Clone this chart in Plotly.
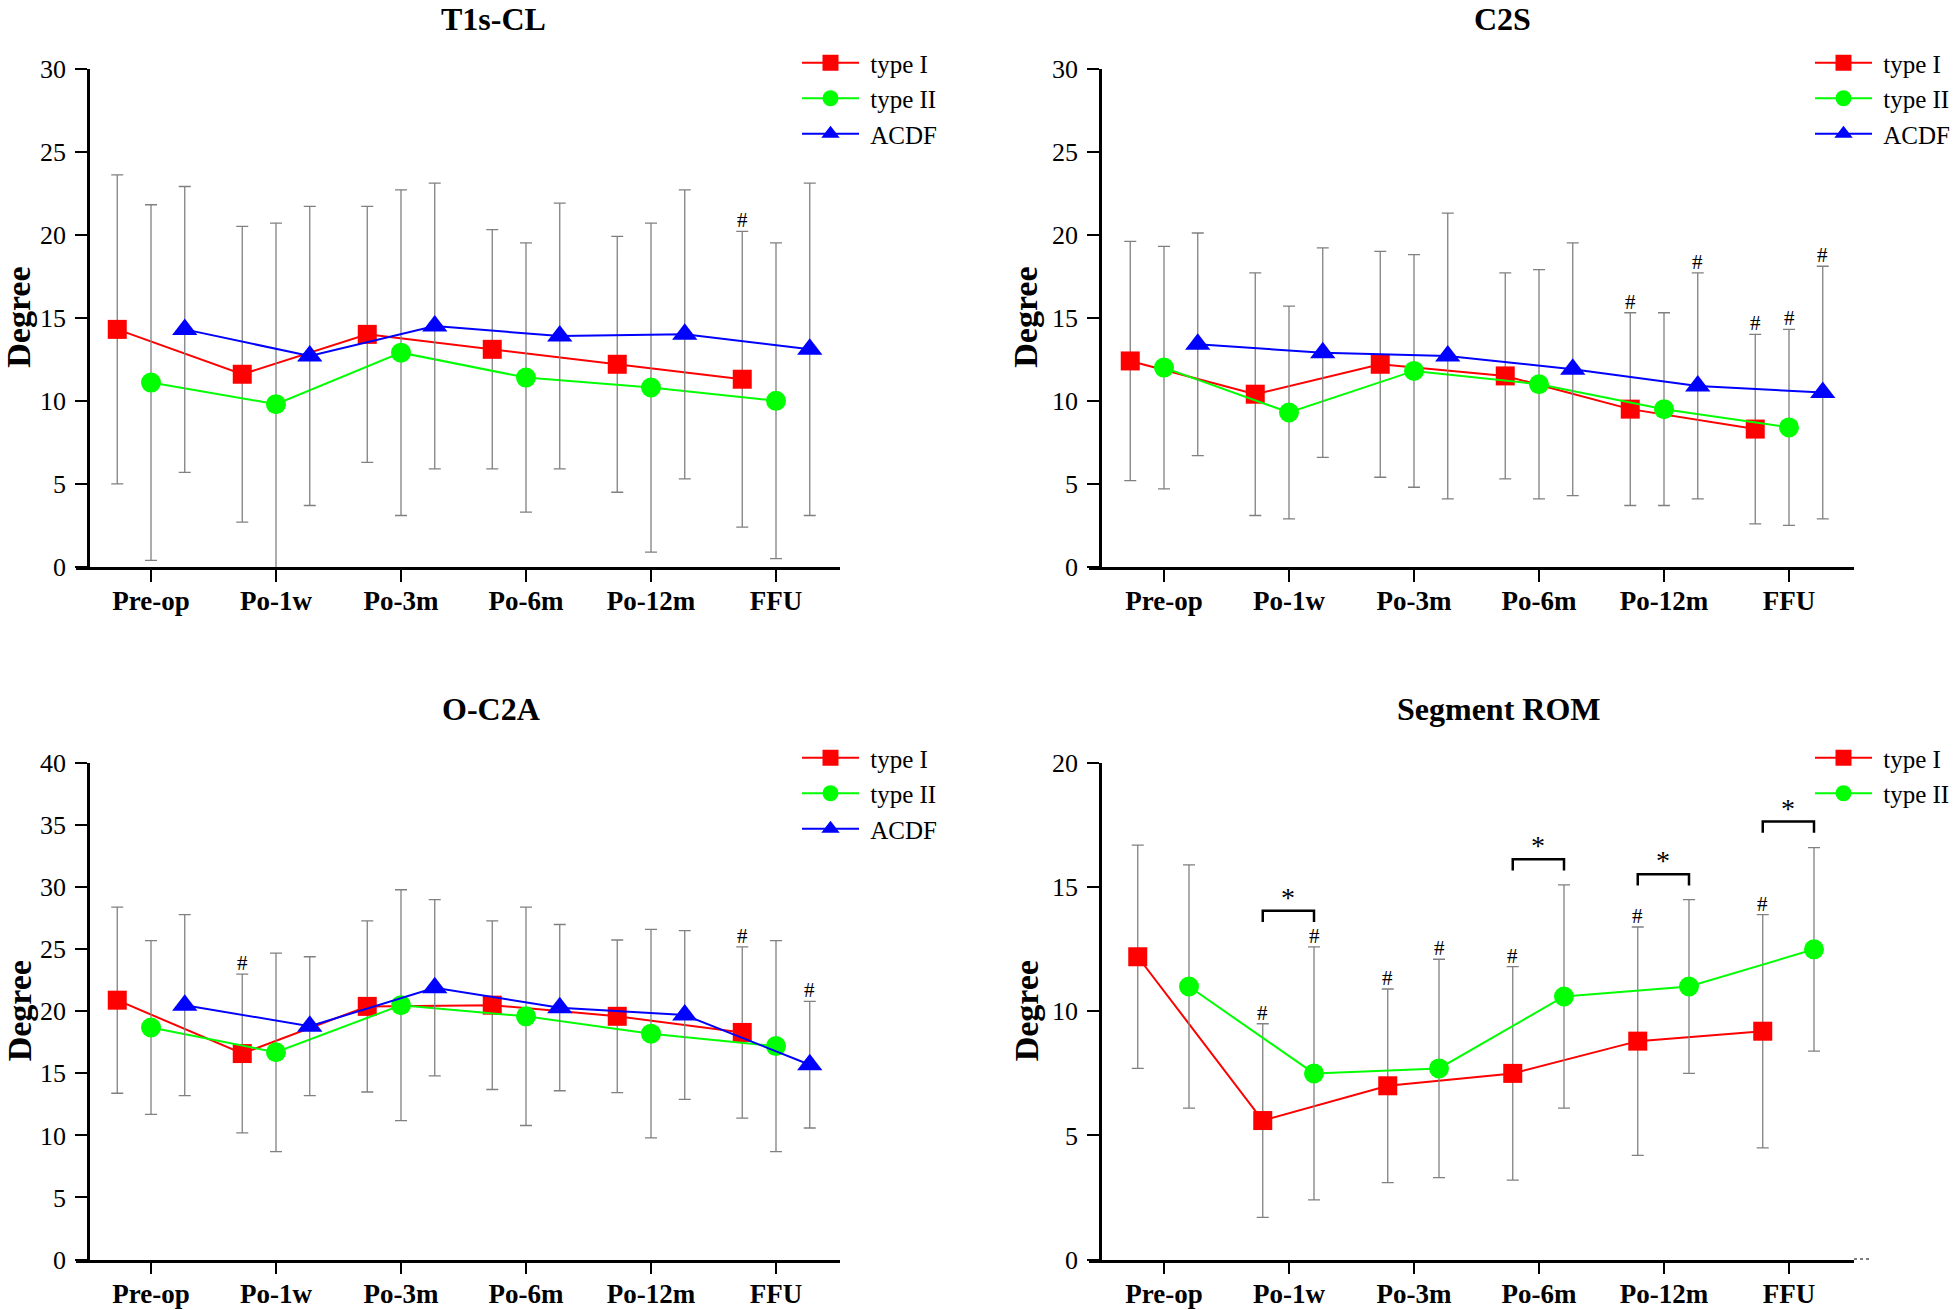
import plotly.graph_objects as go

# ---------------- data ----------------
categories = ["Pre-op", "Po-1w", "Po-3m", "Po-6m", "Po-12m", "FFU"]
series_names = ["type I", "type II", "ACDF"]

# T1s-CL
t1_type1_mean = [14.3, 11.6, 14.0, 13.1, 12.2, 11.3]
t1_type1_sd = [9.3, 8.9, 7.7, 7.2, 7.7, 8.9]
t1_type2_mean = [11.1, 9.8, 12.9, 11.4, 10.8, 10.0]
t1_type2_sd = [10.7, 10.9, 9.8, 8.1, 9.9, 9.5]
t1_acdf_mean = [14.3, 12.7, 14.5, 13.9, 14.0, 13.1]
t1_acdf_sd = [8.6, 9.0, 8.6, 8.0, 8.7, 10.0]
t1_hash = [(0, 5)]

# C2S
c2s_type1_mean = [12.4, 10.4, 12.2, 11.5, 9.5, 8.3]
c2s_type1_sd = [7.2, 7.3, 6.8, 6.2, 5.8, 5.7]
c2s_type2_mean = [12.0, 9.3, 11.8, 11.0, 9.5, 8.4]
c2s_type2_sd = [7.3, 6.4, 7.0, 6.9, 5.8, 5.9]
c2s_acdf_mean = [13.4, 12.9, 12.7, 11.9, 10.9, 10.5]
c2s_acdf_sd = [6.7, 6.3, 8.6, 7.6, 6.8, 7.6]
c2s_hash = [(0, 4), (2, 4), (0, 5), (1, 5), (2, 5)]

# O-C2A
oc2a_type1_mean = [20.9, 16.6, 20.4, 20.5, 19.6, 18.3]
oc2a_type1_sd = [7.5, 6.4, 6.9, 6.8, 6.15, 6.9]
oc2a_type2_mean = [18.7, 16.7, 20.5, 19.6, 18.2, 17.2]
oc2a_type2_sd = [7.0, 8.0, 9.3, 8.8, 8.4, 8.5]
oc2a_acdf_mean = [20.5, 18.8, 21.9, 20.3, 19.7, 15.7]
oc2a_acdf_sd = [7.3, 5.6, 7.1, 6.7, 6.8, 5.1]
oc2a_hash = [(0, 1), (0, 5), (2, 5)]

# Segment ROM
rom_type1_mean = [12.2, 5.6, 7.0, 7.5, 8.8, 9.2]
rom_type1_sd = [4.5, 3.9, 3.9, 4.3, 4.6, 4.7]
rom_type2_mean = [11.0, 7.5, 7.7, 10.6, 11.0, 12.5]
rom_type2_sd = [4.9, 5.1, 4.4, 4.5, 3.5, 4.1]
rom_hash = [(0, 1), (1, 1), (0, 2), (1, 2), (0, 3), (0, 4), (0, 5)]
rom_sig_categories = [1, 3, 4, 5]
rom_sig_levels = [14.05, 16.13, 15.52, 17.65]

# ---------------- styling ----------------
W, H = 1959, 1310
FONT = "Liberation Serif"
colors = ["#ff0000", "#00ff00", "#0000ff"]
symbols = ["square", "circle", "triangle-up"]
msizes = [19, 20, 22]
ERR_COLOR = "#808080"

panels = [
    dict(title="T1s-CL", means=[t1_type1_mean, t1_type2_mean, t1_acdf_mean],
         sds=[t1_type1_sd, t1_type2_sd, t1_acdf_sd], offsets=[-0.27, 0.0, 0.27],
         hashes=t1_hash, ymax=30, xpx=(76, 840), yaxpx=88, ypx=(567, 68.5),
         title_xy=(493, 19), ylab_x=19, legend_xy=(797, 40)),
    dict(title="C2S", means=[c2s_type1_mean, c2s_type2_mean, c2s_acdf_mean],
         sds=[c2s_type1_sd, c2s_type2_sd, c2s_acdf_sd], offsets=[-0.27, 0.0, 0.27],
         hashes=c2s_hash, ymax=30, xpx=(1089, 1854), yaxpx=1100, ypx=(567, 68.5),
         title_xy=(1502, 19), ylab_x=1026, legend_xy=(1810, 40)),
    dict(title="O-C2A", means=[oc2a_type1_mean, oc2a_type2_mean, oc2a_acdf_mean],
         sds=[oc2a_type1_sd, oc2a_type2_sd, oc2a_acdf_sd], offsets=[-0.27, 0.0, 0.27],
         hashes=oc2a_hash, ymax=40, xpx=(76, 840), yaxpx=88, ypx=(1259.5, 763.2),
         title_xy=(491, 709), ylab_x=19, legend_xy=(797, 735)),
    dict(title="Segment ROM", means=[rom_type1_mean, rom_type2_mean],
         sds=[rom_type1_sd, rom_type2_sd], offsets=[-0.21, 0.2],
         hashes=rom_hash, ymax=20, xpx=(1089, 1854), yaxpx=1100, ypx=(1259.5, 763.2),
         title_xy=(1499, 709), ylab_x=1026, legend_xy=(1810, 735)),
]

CAT_SPACING = 125.0

fig = go.Figure()
annotations = []
shapes = []
layout_axes = {}

for p_i, p in enumerate(panels):
    n = p_i + 1
    xa = "x" if n == 1 else f"x{n}"
    ya = "y" if n == 1 else f"y{n}"
    legname = "legend" if n == 1 else f"legend{n}"
    x0px, x1px = p["xpx"]
    cat0px = x0px + 75.0
    xr = [(x0px - cat0px) / CAT_SPACING, (x1px - cat0px) / CAT_SPACING]
    ybot, ytop = p["ypx"]

    for s_i, (mean, sd) in enumerate(zip(p["means"], p["sds"])):
        xs = [i + p["offsets"][s_i] for i in range(len(categories))]
        fig.add_trace(go.Scatter(
            x=xs, y=mean, mode="lines+markers", name="\u00a0" + series_names[s_i],
            xaxis=xa, yaxis=ya, legend=legname,
            line=dict(color=colors[s_i], width=2),
            marker=dict(symbol=symbols[s_i], size=msizes[s_i], color=colors[s_i],
                        line=dict(width=0)),
            error_y=dict(type="data", array=sd, visible=True, color=ERR_COLOR,
                         thickness=1.3, width=6),
            cliponaxis=False,
        ))

    for (s_i, c_i) in p["hashes"]:
        annotations.append(dict(
            x=c_i + p["offsets"][s_i], y=p["means"][s_i][c_i] + p["sds"][s_i][c_i],
            xref=xa, yref=ya, text="#", showarrow=False, yanchor="bottom",
            font=dict(family=FONT, size=21, color="black"), yshift=-3))

    axis_key = "xaxis" if n == 1 else f"xaxis{n}"
    yaxis_key = "yaxis" if n == 1 else f"yaxis{n}"
    layout_axes[axis_key] = dict(
        domain=[x0px / W, x1px / W], range=xr, anchor=ya,
        tickvals=list(range(len(categories))), ticktext=categories,
        showline=True, linecolor="black", linewidth=2.5, mirror=False,
        ticks="outside", ticklen=12, tickwidth=2, tickcolor="black",
        showgrid=False, zeroline=False, ticklabelstandoff=-4,
        tickfont=dict(family=FONT, size=27, color="black", weight="bold"),
    )
    layout_axes[yaxis_key] = dict(
        domain=[1 - ybot / H, 1 - ytop / H], range=[0, p["ymax"]],
        anchor="free", position=p["yaxpx"] / W,
        dtick=5, showline=True, linecolor="black", linewidth=2.5,
        ticks="outside", ticklen=12, tickwidth=2, tickcolor="black",
        showgrid=False, zeroline=False, ticklabelstandoff=4,
        tickfont=dict(family=FONT, size=26, color="black"),
    )
    layout_axes[legname] = dict(
        x=p["legend_xy"][0] / W, y=1 - p["legend_xy"][1] / H,
        xanchor="left", yanchor="top", xref="paper", yref="paper",
        bgcolor="rgba(0,0,0,0)", borderwidth=0, itemwidth=57,
        font=dict(family=FONT, size=25, color="black"),
        tracegroupgap=0,
    )

    # titles
    annotations.append(dict(
        x=p["title_xy"][0] / W, y=1 - p["title_xy"][1] / H, xref="paper", yref="paper",
        text=p["title"], showarrow=False, xanchor="center", yanchor="middle",
        font=dict(family=FONT, size=32, color="black", weight="bold")))
    annotations.append(dict(
        x=p["ylab_x"] / W, y=1 - (ybot + ytop) / 2 / H, xref="paper", yref="paper",
        text="Degree", showarrow=False, textangle=-90, xanchor="center", yanchor="middle",
        font=dict(family=FONT, size=34, color="black", weight="bold")))

# significance brackets on Segment ROM
off = panels[3]["offsets"]
for c_i, lvl in zip(rom_sig_categories, rom_sig_levels):
    xl, xr_ = c_i + off[0], c_i + off[1]
    shapes.append(dict(
        type="path", xref="x4", yref="y4",
        path=f"M {xl} {lvl - 0.45} L {xl} {lvl} L {xr_} {lvl} L {xr_} {lvl - 0.45}",
        line=dict(color="black", width=2.5)))
    annotations.append(dict(
        x=c_i + (off[0] + off[1]) / 2, y=lvl, xref="x4", yref="y4", text="*",
        showarrow=False, yanchor="bottom",
        font=dict(family=FONT, size=28, color="black"), yshift=-4))

# dotted continuation of Segment ROM x axis
shapes.append(dict(type="line", xref="x4 domain", yref="y4", x0=1.0, x1=1.021, y0=0, y1=0,
                   line=dict(color="black", width=2, dash="dot")))

fig.update_layout(
    width=W, height=H,
    margin=dict(l=0, r=0, t=0, b=0, pad=0, autoexpand=False),
    paper_bgcolor="white", plot_bgcolor="white",
    annotations=annotations, shapes=shapes,
    **layout_axes,
)

fig.write_html(
    "out.html",
    config={"displayModeBar": False},
    post_script="document.body.style.margin='0px';document.body.style.overflow='hidden';",
)
